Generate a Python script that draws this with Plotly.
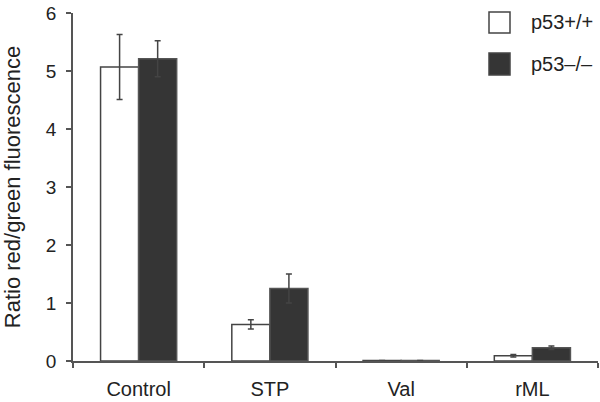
import plotly.graph_objects as go

categories = ["Control", "STP", "Val", "rML"]
wt_values = [5.07, 0.63, 0.01, 0.09]
wt_errors = [0.56, 0.08, 0.0, 0.02]
ko_values = [5.21, 1.25, 0.01, 0.23]
ko_errors = [0.31, 0.25, 0.0, 0.03]
series_names = ["p53+/+", "p53\u2013/\u2013"]
y_ticks = [0, 1, 2, 3, 4, 5, 6]

W, H = 600, 402
ML, MR, MT, MB = 73, 2, 13, 41
FONT = "Liberation Sans, Arial, Helvetica, sans-serif"
AX = "#555555"
DARK = "#353535"

fig = go.Figure()
fig.add_trace(go.Bar(
    x=categories, y=wt_values, name=series_names[0],
    marker=dict(color="white", line=dict(color="#444444", width=1.5)),
    error_y=dict(type="data", array=wt_errors, color="#444444", thickness=1.5, width=3),
    showlegend=False,
))
fig.add_trace(go.Bar(
    x=categories, y=ko_values, name=series_names[1],
    marker=dict(color=DARK, line=dict(color="#555555", width=1.5)),
    error_y=dict(type="data", array=ko_errors, color="#444444", thickness=1.5, width=3),
    showlegend=False,
))

pw = W - ML - MR
ph = H - MT - MB
def px(x):
    return (x - ML) / pw
def py(y):
    return (H - MB - y) / ph

# legend drawn manually
legend_items = [(series_names[0], "white", 12, 33), (series_names[1], DARK, 53, 75)]
for name, col, y0, y1 in legend_items:
    fig.add_shape(type="rect", xref="paper", yref="paper",
                  x0=px(489), x1=px(510), y0=py(y1), y1=py(y0),
                  fillcolor=col, line=dict(color="#444444", width=1.5))
    fig.add_annotation(xref="paper", yref="paper", x=px(529), y=py((y0 + y1) / 2),
                       text=name, showarrow=False, xanchor="left", yanchor="middle",
                       font=dict(size=20, color="#222222", family=FONT))

fig.update_layout(
    width=W, height=H,
    margin=dict(l=ML, r=MR, t=MT, b=MB, autoexpand=False),
    paper_bgcolor="white", plot_bgcolor="white",
    barmode="group", bargap=0.42, bargroupgap=0,
    font=dict(family=FONT, color="#222222"),
    xaxis=dict(
        showline=True, linecolor=AX, linewidth=1.5,
        ticks="outside", tickson="boundaries", ticklen=5, tickcolor=AX, tickwidth=1.5,
        tickfont=dict(size=20, color="#222222"),
        ticklabelstandoff=9,
        showgrid=False, zeroline=False, automargin=False,
    ),
    yaxis=dict(
        range=[0, 6], tickvals=y_ticks,
        showline=True, linecolor=AX, linewidth=1.5,
        ticks="outside", ticklen=5, tickcolor=AX, tickwidth=1.5,
        tickfont=dict(size=19, color="#222222"),
        ticklabelstandoff=6,
        showgrid=False, zeroline=False, automargin=False,
        title=dict(text="Ratio red/green fluorescence", font=dict(size=22, color="#222222"), standoff=19),
    ),
)

fig.write_html("out.html", config={"displayModeBar": False},
               post_script="document.body.style.margin='0';document.body.style.overflow='hidden';")
